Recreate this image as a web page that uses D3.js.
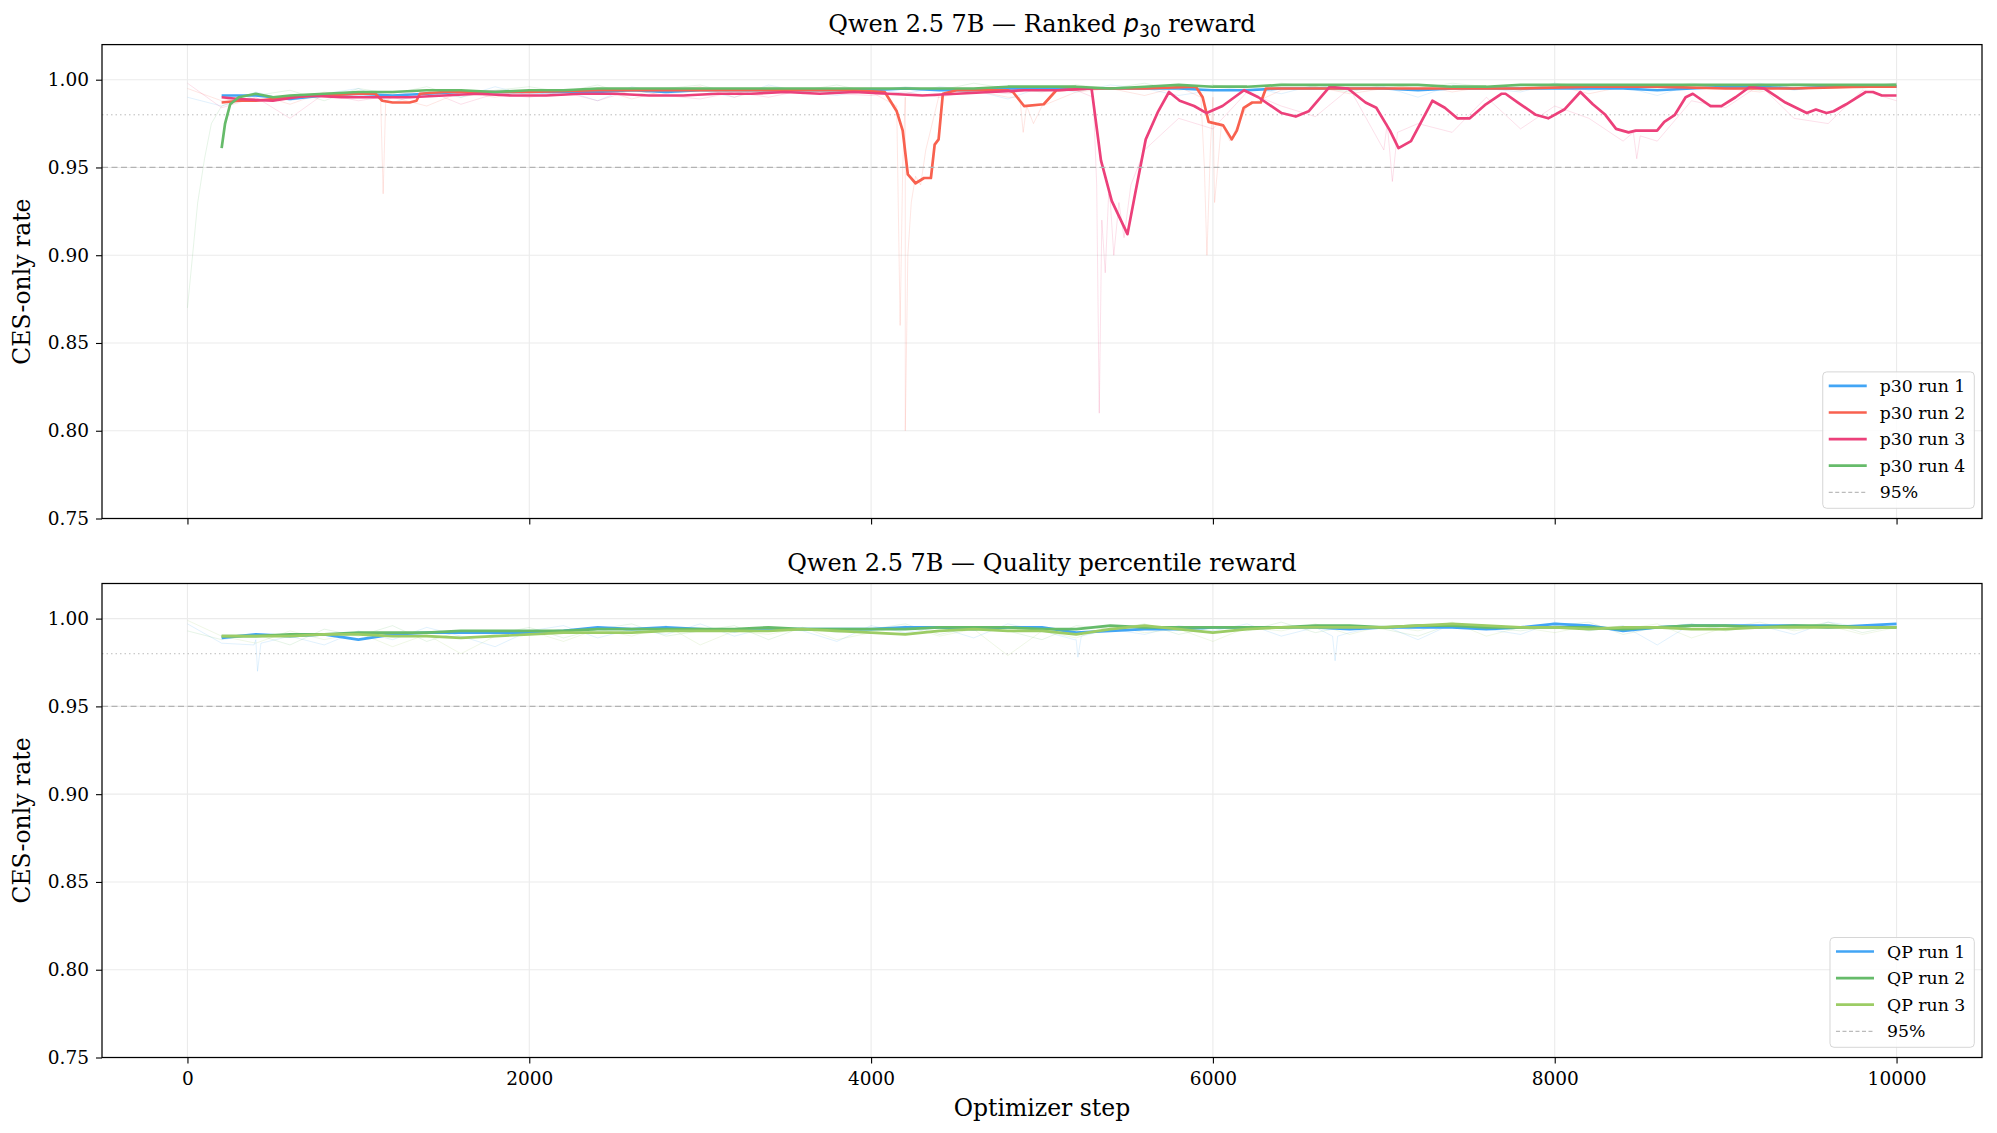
<!DOCTYPE html>
<html>
<head>
<meta charset="utf-8">
<script src="https://cdn.jsdelivr.net/npm/d3@7"></script>
<style>
  body { margin: 0; background: #fff; }
  svg { display: block; }
  text { font-family: "DejaVu Serif", serif; fill: #000; }
</style>
</head>
<body>
<div id="chart"></div>
<script>
// ---- data ----
var xTicks = [0, 2000, 4000, 6000, 8000, 10000];
var yTicks = [0.75, 0.80, 0.85, 0.90, 0.95, 1.00];
var threshold = 0.95;
var dottedLevel = 0.98;

// step grids
var gridSteps = d3.range(200, 10001, 200);   // smoothed curves
var rawSteps = d3.range(0, 10001, 200);      // raw per-step rates (sampled)

// top panel: ranked p30 reward, smoothed
var p30Run1 = [0.991, 0.991, 0.989, 0.991, 0.992, 0.991, 0.992, 0.993, 0.993, 0.993,
               0.993, 0.993, 0.994, 0.993, 0.994, 0.994, 0.994, 0.994, 0.994, 0.994,
               0.995, 0.994, 0.994, 0.995, 0.995, 0.995, 0.995, 0.995, 0.995, 0.994,
               0.994, 0.995, 0.995, 0.995, 0.995, 0.994, 0.995, 0.995, 0.995, 0.995,
               0.995, 0.995, 0.994, 0.995, 0.996, 0.996, 0.995, 0.996, 0.996, 0.996];

var p30Run2Steps = [200, 300, 400, 600, 800, 1000, 1100, 1140, 1200, 1300, 1340, 1360, 1500, 1800, 2000,
                    2400, 2800, 3200, 3600, 3900, 4080, 4150, 4185, 4215, 4260, 4310, 4350, 4372, 4395,
                    4420, 4500, 4800, 4830, 4895, 5010, 5084, 5300, 5600, 5900, 5940, 5975, 6060, 6110,
                    6140, 6180, 6230, 6280, 6310, 6600, 7000, 7400, 7800, 8200, 8600, 9000, 9400, 9800, 10000];
var p30Run2 = [0.987, 0.988, 0.988, 0.990, 0.991, 0.992, 0.992, 0.988, 0.987, 0.987, 0.988, 0.992, 0.993, 0.993, 0.993,
               0.994, 0.994, 0.994, 0.994, 0.994, 0.993, 0.982, 0.971, 0.946, 0.941, 0.944, 0.944, 0.963, 0.966,
               0.992, 0.994, 0.994, 0.993, 0.985, 0.986, 0.994, 0.995, 0.995, 0.996, 0.990, 0.976, 0.974, 0.966,
               0.971, 0.984, 0.987, 0.987, 0.995, 0.995, 0.995, 0.995, 0.995, 0.996, 0.996, 0.995, 0.995, 0.996, 0.996];

var p30Run3Steps = [200, 300, 500, 700, 900, 1100, 1300, 1500, 1700, 1900, 2100, 2300, 2500, 2700, 2900,
                    3100, 3300, 3500, 3700, 3900, 4100, 4300, 4500, 4700, 4900, 5100, 5290, 5345, 5408,
                    5500, 5545, 5607, 5680, 5743, 5806, 5890, 5963, 6056, 6182, 6266, 6402, 6485, 6560,
                    6684, 6790, 6893, 6956, 7036, 7086, 7159, 7284, 7357, 7430, 7503, 7597, 7690, 7712,
                    7785, 7889, 7962, 8056, 8150, 8223, 8296, 8359, 8432, 8474, 8599, 8641, 8703, 8766,
                    8808, 8912, 8975, 9058, 9142, 9225, 9350, 9475, 9528, 9590, 9632, 9705, 9820, 9862, 9914, 10000];
var p30Run3 = [0.990, 0.989, 0.988, 0.991, 0.990, 0.990, 0.990, 0.991, 0.992, 0.991, 0.991, 0.992, 0.992, 0.991, 0.991,
               0.992, 0.992, 0.993, 0.992, 0.993, 0.992, 0.991, 0.992, 0.993, 0.994, 0.994, 0.995, 0.954, 0.931,
               0.912, 0.935, 0.966, 0.982, 0.993, 0.988, 0.985, 0.981, 0.985, 0.994, 0.990, 0.981, 0.979, 0.982,
               0.996, 0.995, 0.987, 0.984, 0.971, 0.961, 0.965, 0.988, 0.984, 0.978, 0.978, 0.986, 0.992, 0.992,
               0.987, 0.980, 0.978, 0.983, 0.993, 0.986, 0.980, 0.972, 0.970, 0.971, 0.971, 0.976, 0.980, 0.990,
               0.992, 0.985, 0.985, 0.990, 0.996, 0.995, 0.987, 0.981, 0.983, 0.981, 0.982, 0.986, 0.993, 0.993, 0.991, 0.991];

var p30Run4Steps = [200, 220, 250, 300, 400, 500, 600, 800, 1000, 1200, 1400, 1600, 1800, 2000, 2200, 2400,
                    2600, 2800, 3000, 3200, 3400, 3600, 3800, 4000, 4200, 4400, 4600, 4800, 5000, 5200, 5400,
                    5600, 5800, 6000, 6200, 6400, 6600, 6800, 7000, 7200, 7400, 7600, 7800, 8000, 8200, 8400,
                    8600, 8800, 9000, 9200, 9400, 9600, 9800, 10000];
var p30Run4 = [0.961, 0.975, 0.986, 0.990, 0.992, 0.990, 0.991, 0.992, 0.993, 0.993, 0.994, 0.994, 0.993, 0.994, 0.994, 0.995,
               0.995, 0.995, 0.995, 0.995, 0.995, 0.995, 0.995, 0.995, 0.995, 0.995, 0.995, 0.996, 0.996, 0.996, 0.995,
               0.996, 0.997, 0.996, 0.996, 0.997, 0.997, 0.997, 0.997, 0.997, 0.996, 0.996, 0.997, 0.997, 0.997, 0.997,
               0.997, 0.997, 0.997, 0.997, 0.997, 0.997, 0.997, 0.997];

// top panel raw (faint), sampled on rawSteps
var p30Run1Raw = [0.990, 0.985, 0.993, 0.988, 0.992, 0.995, 0.987, 0.993, 0.990, 0.996,
                  0.991, 0.994, 0.988, 0.996, 0.992, 0.994, 0.990, 0.997, 0.993, 0.991,
                  0.995, 0.992, 0.996, 0.994, 0.989, 0.996, 0.993, 0.997, 0.995, 0.991,
                  0.994, 0.996, 0.992, 0.997, 0.994, 0.996, 0.990, 0.997, 0.995, 0.993,
                  0.998, 0.994, 0.996, 0.991, 0.997, 0.995, 0.998, 0.994, 0.997, 0.996, 0.998];
var p30Run2Raw = [0.995, 0.988, 0.992, 0.986, 0.993, 0.990, 0.990, 0.985, 0.993, 0.990,
                  0.994, 0.991, 0.995, 0.989, 0.994, 0.996, 0.990, 0.995, 0.992, 0.994,
                  0.993, 0.990, 0.992, 0.994, 0.990, 0.985, 0.993, 0.995, 0.991, 0.996,
                  0.990, 0.985, 0.994, 0.996, 0.992, 0.995, 0.997, 0.993, 0.996, 0.994,
                  0.997, 0.992, 0.996, 0.994, 0.997, 0.995, 0.993, 0.997, 0.995, 0.996, 0.998];
var p30Run3Raw = [0.998, 0.984, 0.990, 0.978, 0.992, 0.988, 0.991, 0.994, 0.986, 0.992,
                  0.990, 0.993, 0.988, 0.994, 0.991, 0.989, 0.993, 0.990, 0.994, 0.992,
                  0.991, 0.993, 0.990, 0.994, 0.992, 0.996, 0.994, 0.930, 0.960, 0.978,
                  0.972, 0.993, 0.985, 0.979, 0.995, 0.960, 0.975, 0.970, 0.990, 0.972,
                  0.985, 0.978, 0.965, 0.965, 0.988, 0.984, 0.997, 0.978, 0.975, 0.994, 0.988];
var p30Run4Raw = [0.870, 0.985, 0.991, 0.994, 0.988, 0.995, 0.992, 0.996, 0.990, 0.994,
                  0.996, 0.993, 0.997, 0.991, 0.995, 0.997, 0.992, 0.996, 0.994, 0.997,
                  0.993, 0.996, 0.994, 0.998, 0.995, 0.993, 0.997, 0.995, 0.998, 0.994,
                  0.997, 0.995, 0.998, 0.996, 0.993, 0.997, 0.995, 0.998, 0.996, 0.994,
                  0.998, 0.996, 0.997, 0.995, 0.998, 0.996, 0.994, 0.998, 0.997, 0.995, 0.998];

// narrow raw spikes between the sampled points
var p30Run2SpikeSteps = [1130, 1145, 1160, 4150, 4170, 4185, 4200, 4215, 4235, 4260, 4290, 4320,
                         4870, 4890, 4910, 4950, 5930, 5950, 5965, 5985, 6010, 6050, 6100];
var p30Run2SpikeVals = [0.990, 0.935, 0.988, 0.985, 0.860, 0.950, 0.800, 0.900, 0.930, 0.945, 0.940, 0.960,
                        0.990, 0.970, 0.985, 0.975, 0.990, 0.950, 0.900, 0.960, 0.930, 0.975, 0.965];
var p30Run3SpikeSteps = [5300, 5320, 5335, 5350, 5370, 5390, 5420, 5450, 5480, 5520,
                         7020, 7050, 7080, 8460, 8480, 8500];
var p30Run3SpikeVals = [0.990, 0.940, 0.810, 0.920, 0.890, 0.935, 0.900, 0.930, 0.910, 0.940,
                        0.975, 0.942, 0.970, 0.970, 0.955, 0.968];
var p30Run4SpikeSteps = [30, 60, 100, 140];
var p30Run4SpikeVals = [0.900, 0.930, 0.955, 0.975];

// bottom panel: quality percentile reward, smoothed (on gridSteps)
var qpRun1 = [0.989, 0.991, 0.990, 0.991, 0.988, 0.991, 0.992, 0.992, 0.992, 0.992,
              0.993, 0.995, 0.994, 0.995, 0.994, 0.993, 0.994, 0.994, 0.994, 0.994,
              0.995, 0.995, 0.994, 0.995, 0.995, 0.992, 0.993, 0.994, 0.994, 0.995,
              0.995, 0.995, 0.995, 0.994, 0.995, 0.995, 0.995, 0.994, 0.995, 0.997,
              0.996, 0.993, 0.995, 0.996, 0.996, 0.996, 0.996, 0.995, 0.996, 0.997];
var qpRun2 = [0.990, 0.990, 0.991, 0.991, 0.992, 0.992, 0.992, 0.993, 0.993, 0.993,
              0.993, 0.994, 0.994, 0.994, 0.994, 0.994, 0.995, 0.994, 0.994, 0.994,
              0.994, 0.995, 0.995, 0.995, 0.994, 0.994, 0.996, 0.995, 0.995, 0.995,
              0.995, 0.995, 0.996, 0.996, 0.995, 0.996, 0.996, 0.995, 0.995, 0.995,
              0.995, 0.994, 0.995, 0.996, 0.996, 0.995, 0.996, 0.996, 0.995, 0.995];
var qpRun3 = [0.990, 0.990, 0.990, 0.991, 0.991, 0.990, 0.990, 0.989, 0.990, 0.991,
              0.992, 0.992, 0.992, 0.993, 0.993, 0.993, 0.993, 0.994, 0.993, 0.992,
              0.991, 0.993, 0.994, 0.993, 0.993, 0.991, 0.994, 0.996, 0.994, 0.992,
              0.994, 0.995, 0.995, 0.995, 0.995, 0.996, 0.997, 0.996, 0.995, 0.995,
              0.994, 0.995, 0.995, 0.994, 0.994, 0.995, 0.995, 0.995, 0.995, 0.995];

var qpRun1Raw = [0.997, 0.986, 0.988, 0.990, 0.985, 0.993, 0.988, 0.995, 0.990, 0.984,
                 0.993, 0.996, 0.989, 0.994, 0.991, 0.997, 0.990, 0.995, 0.993, 0.987,
                 0.996, 0.992, 0.995, 0.989, 0.997, 0.993, 0.988, 0.994, 0.991, 0.996,
                 0.993, 0.997, 0.990, 0.995, 0.992, 0.996, 0.988, 0.997, 0.994, 0.991,
                 0.998, 0.993, 0.996, 0.985, 0.997, 0.994, 0.996, 0.991, 0.998, 0.995, 0.997];
var qpRun2Raw = [0.993, 0.988, 0.991, 0.985, 0.994, 0.990, 0.996, 0.987, 0.993, 0.991,
                 0.995, 0.989, 0.994, 0.997, 0.990, 0.993, 0.996, 0.988, 0.995, 0.992,
                 0.994, 0.997, 0.991, 0.995, 0.993, 0.988, 0.996, 0.994, 0.997, 0.991,
                 0.995, 0.993, 0.998, 0.992, 0.996, 0.994, 0.990, 0.997, 0.995, 0.993,
                 0.996, 0.998, 0.991, 0.995, 0.997, 0.993, 0.996, 0.994, 0.998, 0.992, 0.996];
var qpRun3Raw = [0.999, 0.990, 0.986, 0.993, 0.988, 0.992, 0.984, 0.991, 0.980, 0.990,
                 0.993, 0.987, 0.994, 0.990, 0.996, 0.985, 0.993, 0.991, 0.995, 0.988,
                 0.992, 0.996, 0.990, 0.994, 0.979, 0.993, 0.989, 0.996, 0.992, 0.994,
                 0.987, 0.995, 0.993, 0.997, 0.991, 0.996, 0.993, 0.998, 0.990, 0.995,
                 0.992, 0.996, 0.994, 0.997, 0.989, 0.995, 0.998, 0.993, 0.996, 0.991, 0.995];
var qpRun1SpikeSteps = [390, 410, 430, 5190, 5210, 5230, 6700, 6715, 6730];
var qpRun1SpikeVals = [0.985, 0.970, 0.986, 0.988, 0.978, 0.990, 0.990, 0.976, 0.990];

var colors = { blue: "#42A5F5", red: "#F8614F", pink: "#EC407A", green: "#66BB6A", lime: "#9CCC65" };

var panels = [
  {
    top: 44.6, bottom: 518.5,
    series: [
      { name: "p30 run 1", color: colors.blue,  steps: gridSteps,    vals: p30Run1, raw: p30Run1Raw, sx: [], sv: [] },
      { name: "p30 run 2", color: colors.red,   steps: p30Run2Steps, vals: p30Run2, raw: p30Run2Raw, sx: p30Run2SpikeSteps, sv: p30Run2SpikeVals },
      { name: "p30 run 3", color: colors.pink,  steps: p30Run3Steps, vals: p30Run3, raw: p30Run3Raw, sx: p30Run3SpikeSteps, sv: p30Run3SpikeVals },
      { name: "p30 run 4", color: colors.green, steps: p30Run4Steps, vals: p30Run4, raw: p30Run4Raw, sx: p30Run4SpikeSteps, sv: p30Run4SpikeVals }
    ]
  },
  {
    top: 583.5, bottom: 1057.5,
    series: [
      { name: "QP run 1", color: colors.blue,  steps: gridSteps, vals: qpRun1, raw: qpRun1Raw, sx: qpRun1SpikeSteps, sv: qpRun1SpikeVals },
      { name: "QP run 2", color: colors.green, steps: gridSteps, vals: qpRun2, raw: qpRun2Raw, sx: [], sv: [] },
      { name: "QP run 3", color: colors.lime,  steps: gridSteps, vals: qpRun3, raw: qpRun3Raw, sx: [], sv: [] }
    ]
  }
];

// ---- layout ----
var W = 1997, H = 1133;
var left = 102, right = 1982;

var svg = d3.select("#chart").append("svg")
  .attr("width", W)
  .attr("height", H);

var x = d3.scaleLinear().domain([-500, 10500]).range([left, right]);

panels.forEach(function(p, pi) {
  var y = d3.scaleLinear().domain([0.75, 1.02]).range([p.bottom, p.top]);
  var g = svg.append("g");

  var clipId = "clip" + pi;
  svg.append("clipPath").attr("id", clipId)
    .append("rect")
    .attr("x", left).attr("y", p.top)
    .attr("width", right - left).attr("height", p.bottom - p.top);

  // grid
  g.selectAll(".gx").data(xTicks).enter().append("line")
    .attr("x1", function(d) { return x(d); }).attr("x2", function(d) { return x(d); })
    .attr("y1", p.top).attr("y2", p.bottom)
    .attr("stroke", "#ebebeb").attr("stroke-width", 1.1);
  g.selectAll(".gy").data(yTicks).enter().append("line")
    .attr("x1", left).attr("x2", right)
    .attr("y1", function(d) { return y(d); }).attr("y2", function(d) { return y(d); })
    .attr("stroke", "#ebebeb").attr("stroke-width", 1.1);

  var plot = g.append("g").attr("clip-path", "url(#" + clipId + ")");

  var line = d3.line()
    .x(function(d) { return x(d[0]); })
    .y(function(d) { return y(d[1]); });

  // faint raw traces: sampled points plus narrow spikes, in step order
  p.series.forEach(function(s) {
    var pts = rawSteps.map(function(st, i) { return [st, s.raw[i]]; })
      .concat(s.sx.map(function(st, i) { return [st, s.sv[i]]; }))
      .sort(function(a, b) { return a[0] - b[0]; });
    plot.append("path")
      .datum(pts)
      .attr("d", line)
      .attr("fill", "none")
      .attr("stroke", s.color)
      .attr("stroke-opacity", 0.16)
      .attr("stroke-width", 1);
  });

  // dotted reference at 0.98
  plot.append("line")
    .attr("x1", left).attr("x2", right)
    .attr("y1", y(dottedLevel)).attr("y2", y(dottedLevel))
    .attr("stroke", "#bbbbbb").attr("stroke-width", 1)
    .attr("stroke-dasharray", "1.5,3");

  // smoothed curves
  p.series.forEach(function(s) {
    var pts = s.steps.map(function(st, i) { return [st, s.vals[i]]; });
    plot.append("path")
      .datum(pts)
      .attr("d", line)
      .attr("fill", "none")
      .attr("stroke", s.color)
      .attr("stroke-width", 2.7)
      .attr("stroke-linejoin", "round");
  });

  // 95% line
  plot.append("line")
    .attr("x1", left).attr("x2", right)
    .attr("y1", y(threshold)).attr("y2", y(threshold))
    .attr("stroke", "#b3b3b3").attr("stroke-width", 1.3)
    .attr("stroke-dasharray", "6,3.5");

  // axes
  var yAxis = d3.axisLeft(y).tickValues(yTicks).tickFormat(d3.format(".2f"))
    .tickSize(6).tickPadding(7).tickSizeOuter(0);
  var ya = g.append("g").attr("transform", "translate(" + left + ",0)").call(yAxis);
  ya.select(".domain").remove();
  ya.selectAll("text").attr("font-size", 18.5).attr("font-family", "DejaVu Serif");
  ya.selectAll("line").attr("stroke-width", 1.1);

  var xAxis = d3.axisBottom(x).tickValues(xTicks).tickFormat(d3.format("d"))
    .tickSize(6).tickPadding(8).tickSizeOuter(0);
  var xa = g.append("g").attr("transform", "translate(0," + p.bottom + ")").call(xAxis);
  xa.select(".domain").remove();
  xa.selectAll("line").attr("stroke-width", 1.1);
  if (pi === 0) {
    xa.selectAll("text").remove();
  } else {
    xa.selectAll("text").attr("font-size", 18.5).attr("font-family", "DejaVu Serif");
  }

  // frame
  g.append("rect")
    .attr("x", left).attr("y", p.top)
    .attr("width", right - left).attr("height", p.bottom - p.top)
    .attr("fill", "none").attr("stroke", "#000").attr("stroke-width", 1.25);

  // title
  var t = g.append("text")
    .attr("x", (left + right) / 2).attr("y", p.top - 12.3)
    .attr("text-anchor", "middle")
    .attr("font-size", 24);
  if (pi === 0) {
    t.append("tspan").text("Qwen 2.5 7B \u2014 Ranked ");
    t.append("tspan").attr("font-family", "DejaVu Sans").attr("font-style", "italic").text("p");
    t.append("tspan").attr("font-family", "DejaVu Sans").attr("font-size", 17).attr("dy", 4.5).text("30");
    t.append("tspan").attr("dy", -4.5).text(" reward");
  } else {
    t.text("Qwen 2.5 7B \u2014 Quality percentile reward");
  }

  // y label
  g.append("text")
    .attr("transform", "translate(30," + ((p.top + p.bottom) / 2) + ") rotate(-90)")
    .attr("text-anchor", "middle")
    .attr("font-size", 23.5)
    .text("CES-only rate");

  // legend
  var items = p.series.map(function(s) { return { name: s.name, color: s.color, dash: false }; });
  items.push({ name: "95%", color: "#bbbbbb", dash: true });
  var rowH = 26.6;
  var leg = g.append("g");
  var texts = [];
  var boxH = 14 + (items.length - 1) * rowH + 16;
  var boxBottom = p.bottom - 10.2;
  var boxTop = boxBottom - boxH;
  var box = leg.append("rect")
    .attr("y", boxTop).attr("height", boxH)
    .attr("rx", 4).attr("ry", 4)
    .attr("fill", "#fff").attr("fill-opacity", 0.85)
    .attr("stroke", "#d6d6d6").attr("stroke-width", 1);
  items.forEach(function(it, i) {
    var cy = boxTop + 14 + i * rowH;
    var ln = leg.append("line")
      .attr("y1", cy).attr("y2", cy)
      .attr("stroke", it.color)
      .attr("stroke-width", it.dash ? 1.2 : 2.7);
    if (it.dash) ln.attr("stroke-dasharray", "4,2.5");
    var tx = leg.append("text")
      .attr("y", cy + 6)
      .attr("font-size", 17.3)
      .text(it.name);
    texts.push({ ln: ln, tx: tx });
  });
  var maxW = d3.max(texts, function(o) { return o.tx.node().getComputedTextLength(); });
  var boxRight = right - 7.7;
  var boxW = 6 + 38 + 13 + maxW + 9;
  var boxLeft = boxRight - boxW;
  box.attr("x", boxLeft).attr("width", boxW);
  texts.forEach(function(o) {
    o.ln.attr("x1", boxLeft + 6).attr("x2", boxLeft + 44);
    o.tx.attr("x", boxLeft + 57);
  });
});

// x label
svg.append("text")
  .attr("x", (left + right) / 2).attr("y", 1116)
  .attr("text-anchor", "middle")
  .attr("font-size", 23.5)
  .text("Optimizer step");
</script>
</body>
</html>
